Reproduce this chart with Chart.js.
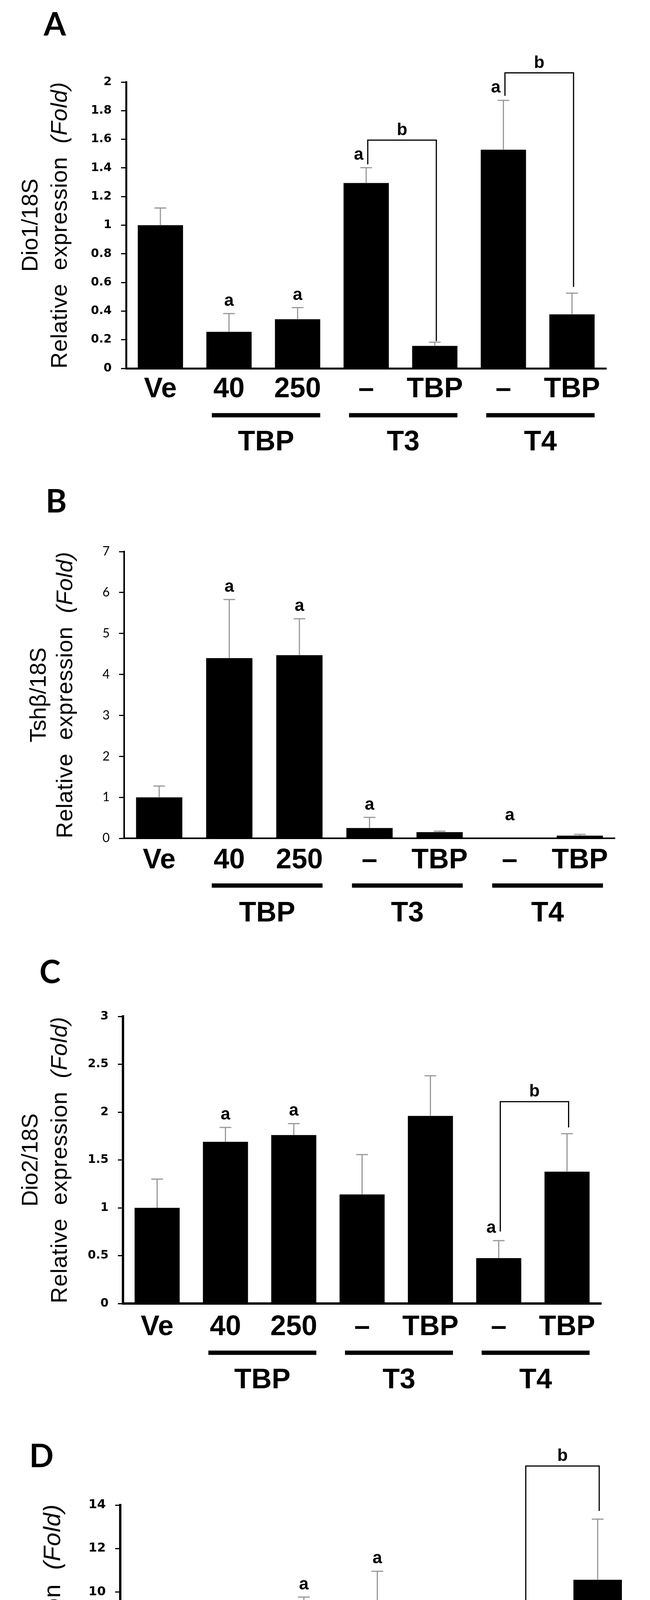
<!DOCTYPE html>
<html lang="en">
<head>
  <meta charset="UTF-8" />
  <title>Relative expression - TBP, T3, T4</title>
  <script src="https://cdn.jsdelivr.net/npm/chart.js"></script>
  <style>
    body { margin: 0; background: #fff; width: 1665px; height: 4893px; position: relative; overflow: hidden; }
    canvas { position: absolute; left: 0; }
  </style>
</head>
<body>
  <canvas id="chartA" width="1665" height="1200" style="top:0px"></canvas>
  <canvas id="chartB" width="1665" height="1200" style="top:1200px"></canvas>
  <canvas id="chartC" width="1665" height="1200" style="top:2400px"></canvas>
  <canvas id="chartD" width="1665" height="1293" style="top:3600px"></canvas>

  <script>
    // categories shared by all four panels
    const categories = ['Ve', '40', '250', '–', 'TBP', '–', 'TBP'];
    const groupLabels = ['TBP', 'T3', 'T4'];
    const groupSpans = [[1, 2], [3, 4], [5, 6]];

    // A: Dio1/18S
    const dio1Mean = [1.0, 0.255, 0.343, 1.295, 0.157, 1.527, 0.377];
    const dio1Err = [0.12, 0.128, 0.081, 0.107, 0.026, 0.345, 0.148];
    const dio1Sig = ['', 'a', 'a', 'a', '', 'a', ''];
    const dio1Brackets = [[3, 4, 1.594, 1.425, 0.19], [5, 6, 2.064, 1.904, 0.569]];

    // B: Tshb/18S
    const tshbMean = [1.0, 4.40, 4.47, 0.25, 0.15, 0.01, 0.065];
    const tshbErr = [0.276, 1.43, 0.89, 0.26, 0.025, 0, 0.03];
    const tshbSig = ['', 'a', 'a', 'a', '', 'a', ''];
    const tshbBrackets = [];

    // C: Dio2/18S
    const dio2Mean = [1.0, 1.69, 1.76, 1.14, 1.96, 0.474, 1.378];
    const dio2Err = [0.30, 0.15, 0.12, 0.416, 0.42, 0.183, 0.396];
    const dio2Sig = ['', 'a', 'a', '', '', 'a', ''];
    const dio2Brackets = [[5, 6, 2.109, 0.752, 1.84]];

    // D: Gh/18S
    const ghMean = [1.0, 3.84, 7.12, 7.82, 5.95, 2.98, 10.56];
    const ghErr = [0.79, 1.15, 2.64, 3.13, 1.10, 0.69, 2.79];
    const ghSig = ['', 'a', 'a', 'a', '', '', ''];
    const ghBrackets = [[5, 6, 15.8, 3.94, 13.73]];

    const panels = [
      { id: 'chartA', letter: 'A', gene: 'Dio1/18S', mean: dio1Mean, err: dio1Err, sig: dio1Sig, brackets: dio1Brackets,
        max: 2, step: 0.2, height: 1200, area: [323, 1553, 210, 943],
        tickFont: { family: 'DejaVu Sans', weight: 'bold', size: 30 }, axisW: 5,
        labelSize: 72, labelDy: 54, lineDy: 120, lineH: 11, groupDy: 190,
        titleX: [80, 155], titleSize: 58, letterPos: [112, 91] },
      { id: 'chartB', letter: 'B', gene: 'Tshβ/18S', mean: tshbMean, err: tshbErr, sig: tshbSig, brackets: tshbBrackets,
        max: 7, step: 1, height: 1200, area: [318, 1575, 212, 946],
        tickFont: { family: 'Lato', weight: 'normal', size: 32 }, axisW: 4,
        labelSize: 72, labelDy: 57, lineDy: 121, lineH: 11, groupDy: 193,
        titleX: [101, 169], titleSize: 58, letterPos: [117, 112] },
      { id: 'chartC', letter: 'C', gene: 'Dio2/18S', mean: dio2Mean, err: dio2Err, sig: dio2Sig, brackets: dio2Brackets,
        max: 3, step: 0.5, height: 1200, area: [315, 1540, 202, 937],
        tickFont: { family: 'DejaVu Sans', weight: 'bold', size: 30 }, axisW: 6,
        labelSize: 72, labelDy: 61, lineDy: 126, lineH: 11, groupDy: 197,
        titleX: [80, 155], titleSize: 58, letterPos: [101, 117] },
      { id: 'chartD', letter: 'D', gene: 'Gh/18S', mean: ghMean, err: ghErr, sig: ghSig, brackets: ghBrackets,
        max: 14, step: 2, height: 1293, area: [308, 1625, 253, 1031],
        tickFont: { family: 'DejaVu Sans', weight: 'bold', size: 32 }, axisW: 6,
        labelSize: 76, labelDy: 67, lineDy: 137, lineH: 12, groupDy: 208,
        titleX: [53, 137], titleSize: 62, letterPos: [75, 156] }
    ];

    const narrow = '"Liberation Sans Narrow", "Liberation Sans", sans-serif';
    const sans = '"Liberation Sans", Arial, sans-serif';

    function extras(p) {
      return {
        id: 'extras',
        afterDatasetsDraw(chart) {
          const ctx = chart.ctx, x = chart.scales.x, y = chart.scales.y;
          const catW = x.getPixelForValue(1) - x.getPixelForValue(0);
          const zero = y.getPixelForValue(0);
          ctx.save();

          // error bars (upper only)
          ctx.strokeStyle = '#999';
          ctx.lineWidth = 3;
          p.mean.forEach((m, i) => {
            if (!p.err[i]) return;
            const cx = x.getPixelForValue(i);
            const yb = y.getPixelForValue(m), yt = y.getPixelForValue(m + p.err[i]);
            ctx.beginPath();
            ctx.moveTo(cx, yb); ctx.lineTo(cx, yt);
            ctx.moveTo(cx - 15, yt); ctx.lineTo(cx + 15, yt);
            ctx.stroke();
          });

          ctx.fillStyle = '#000';
          ctx.font = 'bold 44px ' + narrow;
          ctx.textAlign = 'center';
          ctx.textBaseline = 'alphabetic';

          // 'a' marks
          p.sig.forEach((s, i) => {
            if (!s) return;
            const top = y.getPixelForValue(p.mean[i] + p.err[i]);
            const ly = Math.min(top - 20, zero - 46);
            const shift = p.brackets.some(b => b[0] === i) ? -0.11 * catW : 0;
            ctx.fillText(s, x.getPixelForValue(i) + shift, ly);
          });

          // brackets with 'b'
          ctx.strokeStyle = '#000';
          ctx.lineWidth = 3;
          p.brackets.forEach(([i, j, topV, leftV, rightV]) => {
            const xl = x.getPixelForValue(i) + 4, xr = x.getPixelForValue(j) + 4;
            const yt = y.getPixelForValue(topV);
            ctx.beginPath();
            ctx.moveTo(xl, y.getPixelForValue(leftV));
            ctx.lineTo(xl, yt);
            ctx.lineTo(xr, yt);
            ctx.lineTo(xr, y.getPixelForValue(rightV));
            ctx.stroke();
            ctx.fillText('b', (xl + xr) / 2, yt - 13);
          });
          ctx.restore();
        },
        afterDraw(chart) {
          const ctx = chart.ctx, x = chart.scales.x, y = chart.scales.y;
          const catW = x.getPixelForValue(1) - x.getPixelForValue(0);
          const zero = y.getPixelForValue(0);
          const area = chart.chartArea;
          ctx.save();
          ctx.fillStyle = '#000';

          // category labels, group bars and group labels
          ctx.font = 'bold ' + p.labelSize + 'px ' + sans;
          ctx.textAlign = 'center';
          ctx.textBaseline = 'middle';
          categories.forEach((c, i) => ctx.fillText(c, x.getPixelForValue(i), zero + p.labelDy));
          groupSpans.forEach(([a, b], k) => {
            const l = x.getPixelForValue(a) - 0.25 * catW;
            const r = x.getPixelForValue(b) + 0.33 * catW;
            ctx.fillRect(l, zero + p.lineDy - p.lineH / 2, r - l, p.lineH);
            ctx.fillText(groupLabels[k], (l + r) / 2, zero + p.groupDy);
          });

          // y title, two rotated lines
          const cy = (area.top + area.bottom) / 2;
          ctx.save();
          ctx.translate(p.titleX[0], cy);
          ctx.rotate(-Math.PI / 2);
          ctx.font = p.titleSize + 'px ' + sans;
          ctx.fillText(p.gene, 0, 0);
          ctx.restore();

          ctx.save();
          ctx.translate(p.titleX[1], cy);
          ctx.rotate(-Math.PI / 2);
          ctx.letterSpacing = '1px';
          ctx.textAlign = 'left';
          const partA = 'Relative  expression  ', partB = '(Fold)';
          ctx.font = p.titleSize + 'px ' + sans;
          const wa = ctx.measureText(partA).width;
          ctx.font = 'italic ' + p.titleSize + 'px ' + sans;
          const wb = ctx.measureText(partB).width;
          const start = -(wa + wb) / 2;
          ctx.font = p.titleSize + 'px ' + sans;
          ctx.fillText(partA, start, 0);
          ctx.font = 'italic ' + p.titleSize + 'px ' + sans;
          ctx.fillText(partB, start + wa, 0);
          ctx.restore();

          // panel letter
          ctx.font = 'bold 82px Lato, "Open Sans", sans-serif';
          ctx.textAlign = 'left';
          ctx.textBaseline = 'alphabetic';
          ctx.fillText(p.letter, p.letterPos[0], p.letterPos[1]);
          ctx.restore();
        }
      };
    }

    function renderPanel(p) {
      const ctx = document.getElementById(p.id).getContext('2d');
      new Chart(ctx, {
        type: 'bar',
        data: {
          labels: categories,
          datasets: [{
            data: p.mean,
            backgroundColor: '#000',
            borderWidth: 0,
            barPercentage: 0.66,
            categoryPercentage: 1.0
          }]
        },
        options: {
          responsive: false,
          animation: false,
          devicePixelRatio: 1,
          layout: { padding: { top: p.area[2], right: 1665 - p.area[1], left: 0, bottom: 0 } },
          plugins: { legend: { display: false }, tooltip: { enabled: false } },
          scales: {
            x: {
              grid: { display: false, drawTicks: false },
              ticks: { display: false },
              border: { color: '#000', width: p.axisW },
              afterFit: s => { s.height = p.height - p.area[3]; }
            },
            y: {
              min: 0,
              max: p.max,
              ticks: {
                stepSize: p.step,
                color: '#000',
                padding: 24,
                font: p.tickFont,
                callback: v => String(Math.round(v * 10) / 10)
              },
              grid: { drawOnChartArea: false, tickLength: 13, color: '#000', lineWidth: 3 },
              border: { color: '#000', width: p.axisW },
              afterFit: s => { s.width = p.area[0]; }
            }
          }
        },
        plugins: [extras(p)]
      });
    }

    panels.forEach(renderPanel);
  </script>
</body>
</html>
